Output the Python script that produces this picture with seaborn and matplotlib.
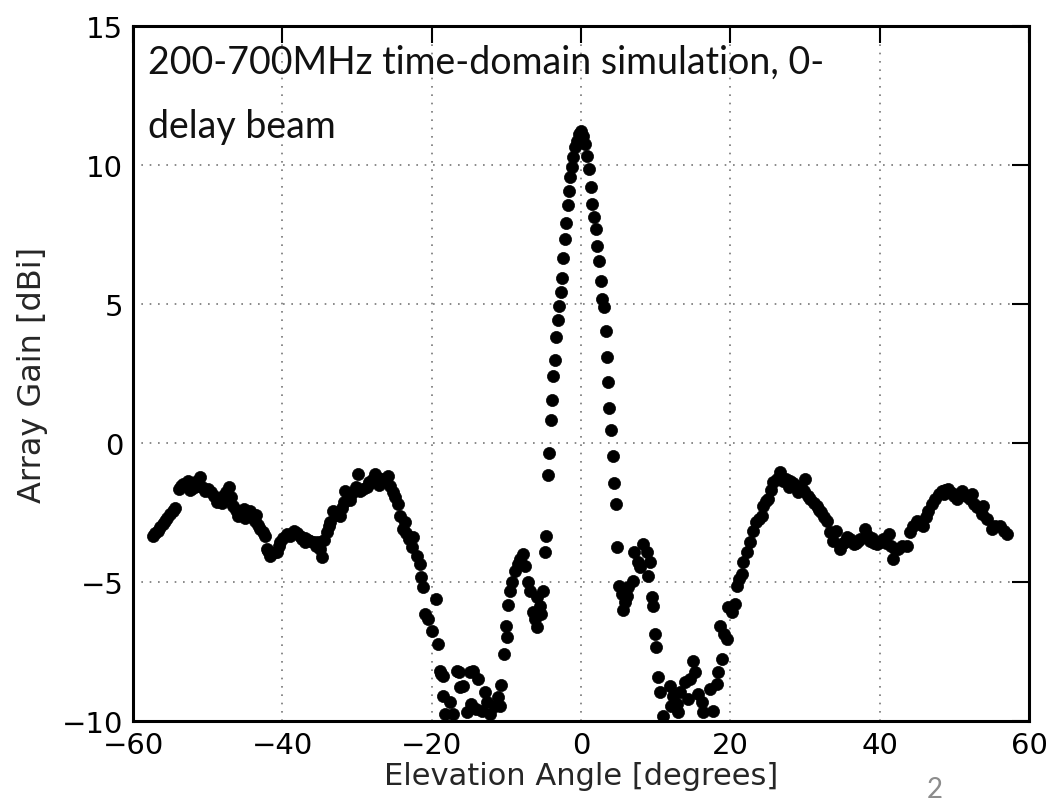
import matplotlib
matplotlib.use("Agg")
import matplotlib.pyplot as plt
import seaborn as sns
import pandas as pd

angles = [
    -57.3, -57.0, -56.7, -56.4, -56.0, -55.7, -55.4, -55.05, -54.7, -54.4,
    -53.9, -53.6, -53.3, -52.9, -52.6, -52.2, -51.7, -51.3, -51.0, -50.7,
    -50.4, -50.0, -49.5, -49.2, -48.8, -48.4, -47.9, -47.5, -47.2, -46.9,
    -46.6, -46.2, -45.9, -45.5, -45.2, -44.8, -44.3, -44.0, -43.7, -43.3,
    -43.0, -42.6, -42.3, -42.1, -41.9, -41.65, -41.2, -40.75, -40.5, -40.3,
    -39.9, -39.4, -39.0, -38.5, -38.1, -37.6, -37.3, -37.0, -36.6, -36.3,
    -35.8, -35.2, -34.9, -34.7, -34.4, -34.06, -33.8, -33.6, -33.2, -32.8,
    -32.3, -32.0, -31.8, -31.6, -31.2, -30.9, -30.5, -30.2, -29.8, -29.6,
    -29.2, -28.7, -28.2, -27.9, -27.6, -27.2, -26.9, -26.5, -26.1, -25.8,
    -25.6, -25.2, -24.9, -24.5, -24.3, -23.8, -23.4, -23.1, -22.7, -22.5,
    -22.0, -21.6, -21.4, -21.2, -20.9, -20.45, -20.0, -19.4, -19.1, -18.9,
    -18.7, -18.5, -18.5, -18.2, -17.5, -17.1, -16.65, -16.4, -16.2, -15.8,
    -15.3, -14.9, -14.4, -14.0, -13.8, -13.3, -12.9, -12.2, -11.5, -11.1,
    -10.85, -10.7, -10.3, -10.1, -9.95, -9.74, -9.5, -9.3, -8.84, -8.5,
    -8.17, -7.73, -7.5, -7.06, -6.83, -6.4, -6.16, -5.95, -5.95, -5.5,
    -5.3, -5.05, -4.87, -4.69, -4.47, -4.25, -4.07, -3.89, -3.71, -3.53,
    -3.31, -3.08, -2.90, -2.72, -2.55, -2.37, -2.19, -1.98, -1.79, -1.61,
    -1.43, -1.21, -1.03, -0.81, -0.58, -0.31, 0.0, 0.31, 0.58, 0.85,
    1.11, 1.30, 1.52, 1.79, 1.97, 2.19, 2.41, 2.68, 2.86, 3.08,
    3.35, 3.48, 3.66, 3.79, 3.97, 4.24, 4.46, 4.69, 4.86, 5.13,
    5.44, 5.67, 5.89, 6.1, 6.33, 7.0, 7.13, 7.67, 7.90, 8.34,
    8.79, 9.0, 9.24, 9.47, 9.68, 9.91, 10.1, 10.35, 10.57, 11.0,
    11.9, 12.1, 12.36, 13.0, 13.25, 13.9, 14.6, 15.0, 15.3, 15.7,
    16.2, 16.4, 17.3, 17.7, 18.2, 18.4, 18.6, 18.85, 19.1, 19.5,
    19.7, 20.2, 20.6, 20.85, 21.2, 21.5, 21.7, 22.2, 22.6, 23.1,
    23.5, 23.8, 24.2, 24.4, 24.8, 25.1, 25.4, 25.75, 26.2, 26.6,
    27.1, 27.5, 28.0, 28.4, 28.9, 29.4, 29.8, 30.0, 30.4, 30.7,
    31.2, 31.6, 32.2, 32.6, 32.9, 33.35, 33.8, 34.2, 34.7, 35.1,
    35.6, 36.0, 36.5, 37.1, 37.4, 38.0, 38.3, 38.7, 39.2, 39.6,
    40.0, 40.5, 41.2, 41.5, 41.8, 42.1, 42.5, 43.0, 43.6, 44.05,
    44.5, 44.95, 45.4, 45.8, 46.2, 46.5, 47.0, 47.4, 47.9, 48.3,
    48.8, 49.2, 49.7, 50.3, 50.6, 51.0, 51.5, 52.1, 52.6, 53.0,
    53.65, 53.9, 54.4, 55.0, 55.5, 56.1, 56.6, 57.0,
    -52.4, -51.9, -48.1, -45.0, -43.5, -36.9, -35.5, -31.0, -28.4, -27.0,
    -23.6, -14.7, -12.6, 12.8, 14.3, 27.8, 29.1, 31.9, 35.3, 36.8,
    39.0, 40.8, 48.6, 50.0, 52.3,
]

gain_dbi = [
    -3.36, -3.25, -3.15, -3.03, -2.90, -2.80, -2.68, -2.55, -2.45, -2.35,
    -1.65, -1.55, -1.47, -1.50, -1.36, -1.45, -1.41, -1.55, -1.23, -1.60,
    -1.72, -1.65, -1.77, -1.90, -2.13, -2.00, -1.90, -1.75, -1.59, -1.95,
    -2.26, -2.40, -2.62, -2.50, -2.37, -2.55, -2.44, -2.65, -2.80, -2.95,
    -3.09, -3.20, -3.33, -3.81, -3.90, -4.05, -3.95, -3.93, -3.70, -3.57,
    -3.40, -3.27, -3.35, -3.15, -3.25, -3.33, -3.45, -3.57, -3.50, -3.51,
    -3.55, -3.57, -3.80, -4.11, -3.50, -3.21, -3.00, -2.85, -2.44, -2.60,
    -2.62, -2.35, -2.13, -1.72, -1.85, -1.90, -1.75, -1.60, -1.12, -1.72,
    -1.65, -1.59, -1.45, -1.30, -1.12, -1.25, -1.36, -1.30, -1.35, -1.18,
    -1.54, -1.75, -1.95, -2.19, -2.62, -3.09, -3.25, -3.45, -3.75, -3.39,
    -4.05, -4.35, -4.83, -5.19, -6.15, -6.33, -6.75, -5.61, -7.23, -8.19,
    -8.31, -8.37, -9.09, -9.75, -9.33, -9.75, -8.19, -8.25, -8.79, -8.73,
    -9.69, -8.25, -8.19, -9.57, -8.49, -9.63, -8.97, -9.75, -9.45, -9.15,
    -9.45, -8.69, -7.59, -6.57, -6.99, -5.83, -5.31, -5.01, -4.59, -4.35,
    -4.17, -3.99, -4.41, -5.01, -5.31, -6.09, -6.33, -6.63, -5.55, -5.85,
    -6.15, -5.31, -3.91, -3.33, -1.14, -0.36, 0.83, 1.56, 2.40, 2.99,
    3.80, 4.42, 4.94, 5.42, 5.94, 6.67, 7.34, 7.91, 8.56, 9.05,
    9.56, 9.92, 10.28, 10.64, 10.87, 11.12, 11.23, 11.05, 10.76, 10.33,
    9.86, 9.20, 8.60, 8.12, 7.70, 7.10, 6.56, 5.84, 5.18, 4.88,
    4.02, 3.08, 2.18, 1.26, 0.48, -0.48, -1.45, -2.19, -3.73, -5.13,
    -5.43, -6.00, -5.73, -5.49, -5.19, -4.95, -3.93, -4.29, -4.47, -3.63,
    -3.93, -4.77, -4.29, -5.55, -5.85, -6.87, -7.35, -8.43, -8.97, -9.81,
    -8.73, -9.45, -9.09, -9.69, -8.97, -8.61, -8.49, -7.83, -8.25, -9.03,
    -9.33, -9.69, -8.85, -9.63, -8.67, -8.25, -6.57, -7.77, -6.87, -7.05,
    -5.91, -6.09, -5.79, -5.13, -4.90, -4.71, -4.29, -3.93, -3.57, -3.15,
    -2.85, -2.75, -2.61, -2.26, -2.10, -2.01, -1.70, -1.41, -1.30, -1.05,
    -1.36, -1.30, -1.36, -1.45, -1.54, -1.60, -1.72, -1.30, -1.90, -2.01,
    -2.15, -2.26, -2.49, -2.65, -2.80, -3.21, -3.51, -3.15, -3.81, -3.60,
    -3.39, -3.45, -3.63, -3.51, -3.45, -3.09, -3.30, -3.51, -3.60, -3.63,
    -3.55, -3.45, -3.27, -3.70, -4.17, -3.80, -3.81, -3.70, -3.69, -3.21,
    -3.00, -2.80, -2.90, -2.97, -2.65, -2.44, -2.20, -2.01, -1.85, -1.72,
    -1.70, -1.65, -1.80, -2.01, -1.85, -1.72, -1.90, -2.01, -2.20, -2.31,
    -2.55, -2.26, -2.75, -3.09, -3.00, -2.97, -3.15, -3.27,
    -1.70, -1.62, -2.15, -2.70, -2.60, -3.40, -3.70, -2.05, -1.40, -1.50,
    -2.85, -9.40, -9.30, -9.40, -9.20, -1.60, -1.75, -2.40, -3.55, -3.60,
    -3.40, -3.60, -1.85, -1.90, -1.85,
]

x_ticks = [-60, -40, -20, 0, 20, 40, 60]
y_ticks = [-10, -5, 0, 5, 10, 15]
annotation = "200-700MHz time-domain simulation, 0-\ndelay beam"

df = pd.DataFrame({"angle": angles, "gain": gain_dbi})

sns.set_style("white")
plt.rcParams["font.family"] = ["DejaVu Sans"]

fig = plt.figure(figsize=(10.63, 8.04), dpi=100)
ax = fig.add_axes([133 / 1063, 1 - 722 / 804, 896 / 1063, 695 / 804])

sns.scatterplot(data=df, x="angle", y="gain", ax=ax, color="black",
                edgecolor="black", s=76, marker="o", linewidth=0.5,
                legend=False, zorder=3, clip_on=True)

ax.set_xlim(-60, 60)
ax.set_ylim(-10, 15)
ax.set_xticks(x_ticks)
ax.set_yticks(y_ticks)
ax.set_xticklabels([f"{t}".replace("-", "\u2212") for t in x_ticks])
ax.set_yticklabels([f"{t}".replace("-", "\u2212") for t in y_ticks])

ax.grid(True, linestyle=(0, (1, 4)), color="#777777", linewidth=1.2, zorder=0)
ax.set_axisbelow(True)
for sp in ax.spines.values():
    sp.set_visible(True)
    sp.set_color("black")
    sp.set_linewidth(2.2)

ax.tick_params(axis="both", which="major", direction="in", length=12, width=1.5,
               top=True, right=True, labelsize=21, pad=7, colors="black")

ax.set_xlabel("Elevation Angle [degrees]", fontsize=22)
ax.set_ylabel("Array Gain [dBi]", fontsize=23)
ax.xaxis.set_label_coords(0.5, -0.058)
ax.xaxis.label.set_va("top")
ax.yaxis.set_label_coords(-0.095, 0.5)

ax.text(0.017, 0.975, annotation, transform=ax.transAxes, ha="left", va="top",
        fontsize=27, family=["Lato", "DejaVu Sans"], fontweight="normal",
        color="#111111", linespacing=2.0, zorder=5)

fig.text(935 / 1063, 1 - 790 / 804, "2", ha="center", va="center",
         fontsize=20, color="#8c8c8c", family=["Lato", "DejaVu Sans"])

fig.savefig("out.png", dpi=100)
